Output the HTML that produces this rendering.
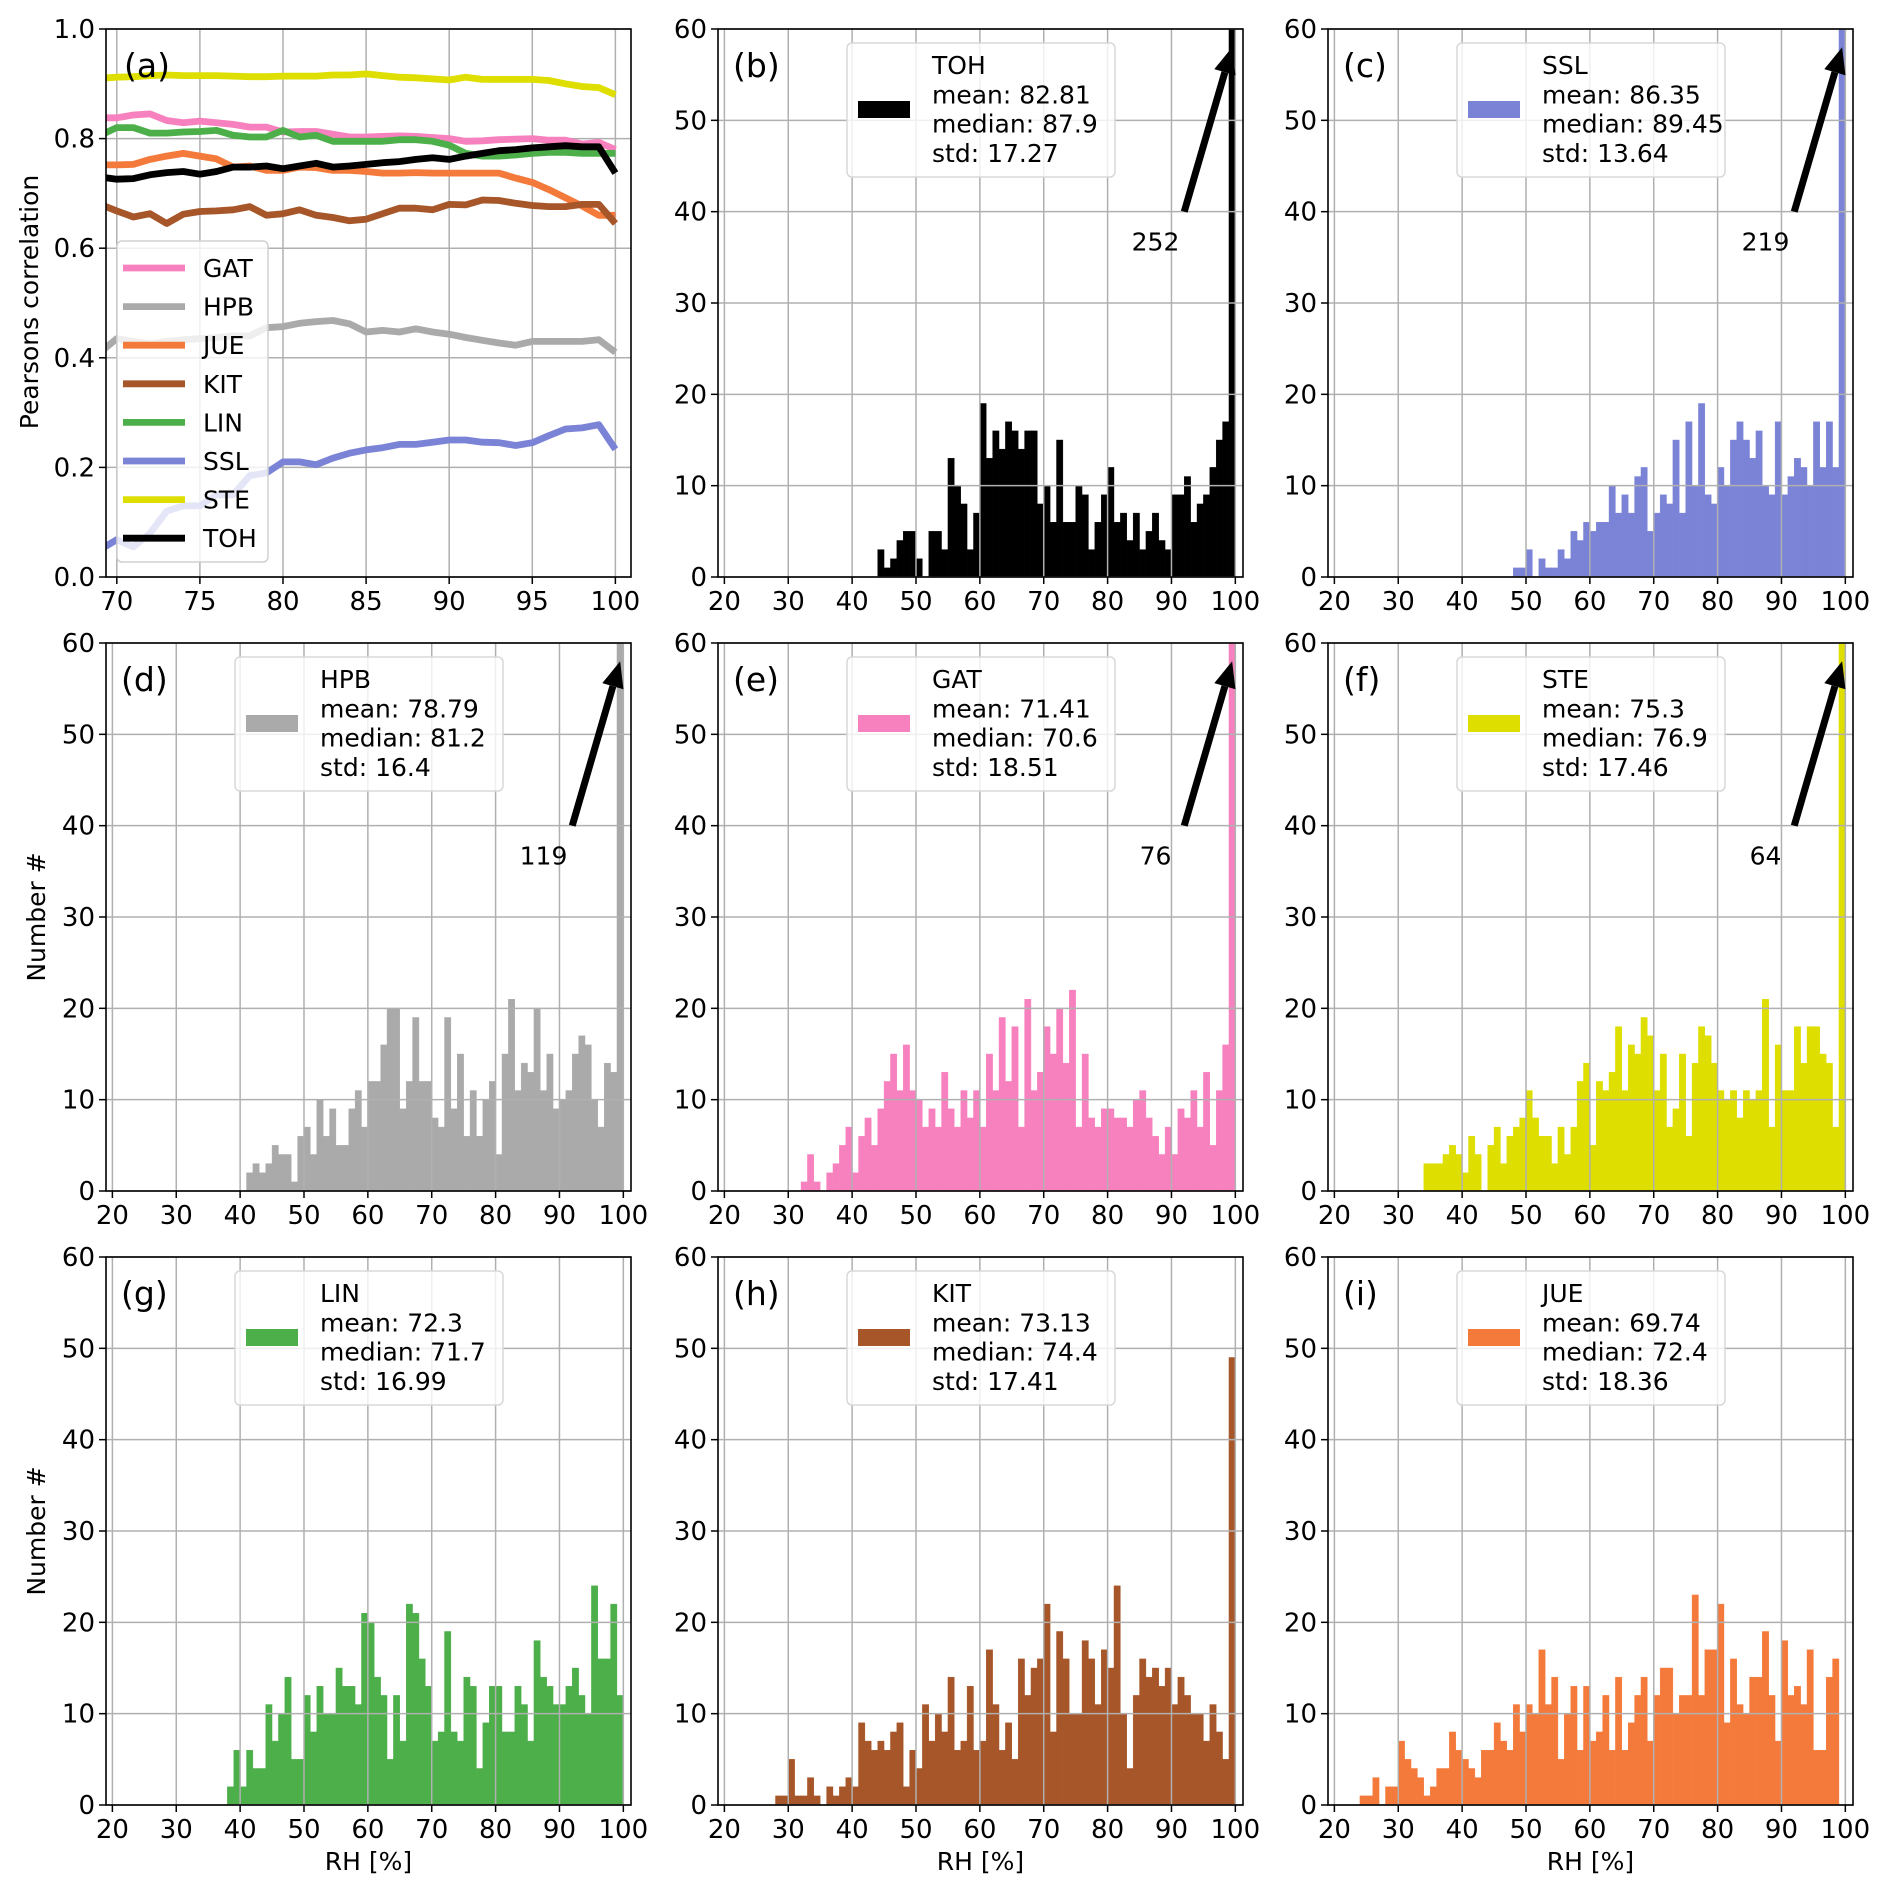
<!DOCTYPE html>
<html><head><meta charset="utf-8">
<style>
html,body{margin:0;padding:0;background:#fff;}
svg{display:block;font-family:"DejaVu Sans","Liberation Sans",sans-serif;}
</style></head>
<body>
<svg id="fig" width="1892" height="1892" viewBox="0 0 1892 1892" xmlns="http://www.w3.org/2000/svg"></svg>
<script>
// ---------- Panel (a) data ----------
const rhLine = [69,70,71,72,73,74,75,76,77,78,79,80,81,82,83,84,85,86,87,88,89,90,91,92,93,94,95,96,97,98,99,100];
const gatCorr = [.838,.838,.843,.845,.833,.829,.832,.829,.826,.821,.821,.812,.813,.813,.808,.803,.803,.804,.805,.804,.802,.800,.795,.796,.798,.799,.800,.797,.797,.790,.793,.780];
const hpbCorr = [.41,.435,.43,.425,.43,.433,.435,.437,.44,.44,.455,.457,.463,.466,.468,.462,.447,.45,.447,.453,.447,.443,.437,.432,.427,.423,.43,.43,.43,.43,.433,.41];
const jueCorr = [.752,.752,.753,.762,.768,.773,.768,.763,.748,.75,.742,.742,.748,.747,.742,.742,.74,.737,.737,.738,.737,.737,.737,.737,.737,.728,.72,.707,.692,.677,.66,.66];
const kitCorr = [.68,.668,.657,.663,.645,.662,.667,.668,.67,.676,.66,.663,.67,.66,.656,.65,.653,.663,.673,.673,.67,.68,.679,.688,.687,.682,.678,.676,.676,.68,.68,.645];
const linCorr = [.806,.82,.82,.81,.81,.812,.813,.815,.806,.803,.803,.815,.803,.806,.795,.795,.795,.795,.798,.798,.795,.788,.773,.768,.768,.77,.773,.775,.775,.773,.773,.773];
const sslCorr = [.05,.068,.055,.08,.12,.13,.13,.15,.15,.185,.19,.21,.21,.205,.217,.226,.232,.236,.242,.242,.246,.25,.25,.246,.245,.24,.245,.258,.27,.272,.278,.233];
const steCorr = [.91,.912,.913,.915,.916,.915,.915,.915,.914,.913,.913,.914,.914,.914,.916,.916,.918,.915,.912,.911,.909,.907,.912,.908,.908,.908,.908,.906,.900,.895,.893,.880];
const tohCorr = [.73,.726,.727,.734,.738,.74,.735,.74,.748,.748,.75,.745,.75,.755,.748,.75,.753,.756,.758,.762,.765,.762,.768,.773,.778,.78,.783,.785,.787,.785,.785,.737];
const lineNames = ["GAT","HPB","JUE","KIT","LIN","SSL","STE","TOH"];
const aXTicks = [70,75,80,85,90,95,100];
const aYTicks = [0,0.2,0.4,0.6,0.8,1.0];

// ---------- Histogram data (1% bins, first bin start) ----------
const tohStart = 44;
const tohCounts = [3,1,2,4,5,5,2,0,5,5, 3,13,10,8,3,7,19,13,16,14, 17,16,14,16,16,8,10,6,15,6, 6,10,9,3,6,9,12,6,7,4, 7,3,5,7,4,3,9,9,11,6, 8,9,12,15,17,252];
const sslStart = 48;
const sslCounts = [1,1,3,0,2,1,1,3,2,5, 4,6,5,6,6,10,7,9,7,11, 12,5,7,9,8,15,7,17,10,19, 9,8,12,10,15,17,15,13,16,10, 9,17,9,11,13,12,10,17,12,17, 12,219];
const hpbStart = 41;
const hpbCounts = [2,3,2,3,5,4,4,1,6,7, 4,10,6,9,5,5,9,11,7,12, 12,16,20,20,9,12,19,12,12,8, 7,19,9,15,6,11,6,10,12,4, 15,21,11,14,13,20,11,15,9,10, 11,15,17,16,10,7,14,13,119];
const gatStart = 32;
const gatCounts = [1,4,1,0,2,3,5,7,2,6, 8,5,9,12,15,11,16,11,10,7, 9,7,13,9,7,11,8,11,7,15, 11,19,12,18,7,21,11,13,18,15, 20,14,22,7,15,8,7,9,9,8, 8,7,10,11,8,6,4,7,4,9, 8,11,7,13,5,11,16,76];
const steStart = 34;
const steCounts = [3,3,3,4,5,4,2,6,4,0, 5,7,3,6,7,8,11,8,6,6, 3,7,4,7,12,14,5,12,11,13, 18,11,16,15,19,17,11,15,7,9, 15,6,14,18,17,14,11,10,11,8, 11,10,11,21,7,16,11,11,18,14, 18,18,15,14,7,64];
const linStart = 38;
const linCounts = [2,6,2,6,4,4,11,7,10,14, 5,5,12,8,13,10,10,15,13,13, 11,21,20,14,12,5,12,7,22,21, 16,13,7,8,19,8,7,14,13,4, 9,13,13,8,8,13,11,7,18,14, 13,11,11,13,15,12,10,24,16,16, 22,12];
const kitStart = 28;
const kitCounts = [1,1,5,1,1,3,1,0,2,1, 2,3,2,9,7,6,7,6,8,9, 2,6,4,11,7,10,8,14,6,7, 13,6,7,17,11,6,9,5,16,12, 15,16,22,8,19,16,10,10,18,16, 11,17,15,24,10,4,12,16,14,15, 13,15,11,14,12,10,10,7,11,8, 5,49];
const jueStart = 24;
const jueCounts = [1,1,3,0,2,2,7,5,4,3, 1,2,4,4,8,6,5,4,3,6, 6,9,7,6,11,8,11,10,17,11, 14,5,10,13,6,13,7,8,12,6, 14,6,9,12,14,7,12,15,15,10, 12,12,23,12,17,17,22,9,16,11, 10,14,14,19,12,7,18,12,13,11, 17,6,6,14,16];
const statsMean = {TOH:"82.81",SSL:"86.35",HPB:"78.79",GAT:"71.41",STE:"75.3",LIN:"72.3",KIT:"73.13",JUE:"69.74"};
const statsMedian = {TOH:"87.9",SSL:"89.45",HPB:"81.2",GAT:"70.6",STE:"76.9",LIN:"71.7",KIT:"74.4",JUE:"72.4"};
const statsStd = {TOH:"17.27",SSL:"13.64",HPB:"16.4",GAT:"18.51",STE:"17.46",LIN:"16.99",KIT:"17.41",JUE:"18.36"};
const histXTicks = [20,30,40,50,60,70,80,90,100];
const histYTicks = [0,10,20,30,40,50,60];

const colors = {GAT:"#f781bf",HPB:"#aaaaaa",JUE:"#f47a3b",KIT:"#a65628",LIN:"#4daf4a",SSL:"#7b83d6",STE:"#dede00",TOH:"#000000"};

const NS = "http://www.w3.org/2000/svg";
const fig = document.getElementById('fig');
function mk(tag, attrs, parent){
  const e = document.createElementNS(NS, tag);
  for (const k in attrs) e.setAttribute(k, attrs[k]);
  (parent||fig).appendChild(e);
  return e;
}
const COLS=[106,718,1328], ROWS=[29,643,1257], W=525, H=548;
const FS=25, TFS=26;

function drawAxesFrame(g, L, T){
  const r = mk('rect',{x:L,y:T,width:W,height:H,fill:'none',stroke:'#000','stroke-width':1.6},g);
  
  
}
function drawGridTicks(g, L, T, sx, sy, xt, yt, fmtY){
  const grid = mk('g',{},g);
  
  
  xt.forEach(v=>{
    const x=sx(v);
    mk('line',{x1:x,x2:x,y1:T,y2:T+H,stroke:'#b0b0b0','stroke-width':1.5},grid);
  });
  yt.forEach(v=>{
    const y=sy(v);
    mk('line',{x1:L,x2:L+W,y1:y,y2:y,stroke:'#b0b0b0','stroke-width':1.5},grid);
  });
  const xa = mk('g',{},g);
  
  
  xt.forEach(v=>{
    const x=sx(v);
    mk('line',{x1:x,x2:x,y1:T+H,y2:T+H+7,stroke:'#000','stroke-width':1.5},xa);
    const t=mk('text',{x:x,y:T+H+33,'text-anchor':'middle','font-size':TFS},xa);
    t.textContent=String(v);
    
    
  });
  const ya = mk('g',{},g);
  
  
  yt.forEach(v=>{
    const y=sy(v);
    mk('line',{x1:L-7,x2:L,y1:y,y2:y,stroke:'#000','stroke-width':1.5},ya);
    const t=mk('text',{x:L-11,y:y+9,'text-anchor':'end','font-size':TFS},ya);
    t.textContent=fmtY(v);
    
    
  });
}
function panelLabel(g,L,T,s){
  const t=mk('text',{x:L+15,y:T+48,'font-size':33},g);
  t.textContent=s;
  
  
}

// ---------- Panel (a) ----------
(function(){
  const L=COLS[0],T=ROWS[0];
  const g=mk('g',{});
  
  
  const x0=69.35,x1=100.94;
  const sx=v=>L+(v-x0)/(x1-x0)*W;
  const sy=v=>T+H-(v/1.0)*H;
  drawGridTicks(g,L,T,sx,sy,aXTicks,aYTicks,v=>v.toFixed(1));
  const series={GAT:gatCorr,HPB:hpbCorr,JUE:jueCorr,KIT:kitCorr,LIN:linCorr,SSL:sslCorr,STE:steCorr,TOH:tohCorr};
  const cp=mk('clipPath',{id:'clipA'},g);
  mk('rect',{x:L,y:T,width:W,height:H},cp);
  const lg=mk('g',{'clip-path':'url(#clipA)'},g);
  lineNames.forEach(n=>{
    const pts=rhLine.map((r,i)=>sx(r).toFixed(1)+','+sy(series[n][i]).toFixed(1)).join(' ');
    const p=mk('polyline',{points:pts,fill:'none',stroke:colors[n],'stroke-width':6.8,'stroke-linejoin':'round'},lg);
    
    
  });
  drawAxesFrame(g,L,T);
  panelLabel(g,L+3,T,'(a)');
  const leg=mk('g',{},g);
  
  
  mk('rect',{x:117,y:241,width:151,height:321,rx:5,fill:'#fff','fill-opacity':0.8,stroke:'#d0d0d0','stroke-width':1.5},leg);
  lineNames.forEach((n,i)=>{
    const y=268+i*38.6;
    const e=mk('g',{},leg);
    
    
    mk('line',{x1:123,x2:185,y1:y,y2:y,stroke:colors[n],'stroke-width':6.8},e);
    const t=mk('text',{x:203,y:y+9,'font-size':FS},e);
    t.textContent=n;
  });
  const yl=mk('text',{x:0,y:0,'font-size':FS,'text-anchor':'middle',transform:'translate(38,302) rotate(-90)'});
  yl.textContent='Pearsons correlation';
  
  
})();

// ---------- Histograms ----------
const hists=[
  {n:'TOH',lab:'(b)',c:1,r:0,start:tohStart,counts:tohCounts,peak:true},
  {n:'SSL',lab:'(c)',c:2,r:0,start:sslStart,counts:sslCounts,peak:true},
  {n:'HPB',lab:'(d)',c:0,r:1,start:hpbStart,counts:hpbCounts,peak:true},
  {n:'GAT',lab:'(e)',c:1,r:1,start:gatStart,counts:gatCounts,peak:true},
  {n:'STE',lab:'(f)',c:2,r:1,start:steStart,counts:steCounts,peak:true},
  {n:'LIN',lab:'(g)',c:0,r:2,start:linStart,counts:linCounts,peak:false},
  {n:'KIT',lab:'(h)',c:1,r:2,start:kitStart,counts:kitCounts,peak:false},
  {n:'JUE',lab:'(i)',c:2,r:2,start:jueStart,counts:jueCounts,peak:false}
];
hists.forEach((h,hi)=>{
  const L=COLS[h.c],T=ROWS[h.r];
  const g=mk('g',{});
  
  
  const x0=19.0,x1=101.2;
  const sx=v=>L+(v-x0)/(x1-x0)*W;
  const sy=v=>T+H-(v/60)*H;
  const cp=mk('clipPath',{id:'clipH'+hi},g);
  mk('rect',{x:L,y:T,width:W,height:H},cp);
  const bg=mk('g',{'clip-path':'url(#clipH'+hi+')'},g);
  h.counts.forEach((v,i)=>{
    if(v<=0) return;
    const b=h.start+i;
    const xa=sx(b), xb=sx(b+1);
    const y=sy(Math.min(v,62));
    const r=mk('rect',{x:xa.toFixed(2),y:y.toFixed(2),width:(xb-xa).toFixed(2),height:(sy(0)-y).toFixed(2),fill:colors[h.n],stroke:colors[h.n],'stroke-width':0.4},bg);
    
    
  });
  drawGridTicks(g,L,T,sx,sy,histXTicks,histYTicks,v=>String(v));
  drawAxesFrame(g,L,T);
  panelLabel(g,L,T,h.lab);
  const leg=mk('g',{},g);
  
  
  mk('rect',{x:L+129,y:T+14,width:268,height:134,rx:5,fill:'#fff','fill-opacity':0.8,stroke:'#d8d8d8','stroke-width':1.5},leg);
  mk('rect',{x:L+140,y:T+72,width:52,height:17,fill:colors[h.n]},leg);
  const lines=[h.n,'mean: '+statsMean[h.n],'median: '+statsMedian[h.n],'std: '+statsStd[h.n]];
  lines.forEach((s,i)=>{
    const t=mk('text',{x:L+214,y:T+45+i*29.3,'font-size':FS},leg);
    t.textContent=s;
  });
  if(h.peak){
    const last=h.counts[h.counts.length-1];
    const ax=sx(92), ay=sy(40), bx=sx(99.5), by=sy(58);
    const dx=bx-ax, dy=by-ay, len=Math.hypot(dx,dy), ux=dx/len, uy=dy/len;
    const hl=26, hw=11;
    const hx=bx-ux*hl, hy=by-uy*hl;
    const an=mk('g',{},g);
    
    
    mk('line',{x1:ax,y1:ay,x2:hx,y2:hy,stroke:'#000','stroke-width':7},an);
    mk('polygon',{points:`${bx},${by} ${hx-uy*hw},${hy+ux*hw} ${hx+uy*hw},${hy-ux*hw}`,fill:'#000'},an);
    const t=mk('text',{x:sx(87.5),y:sy(36.5)+7,'font-size':FS,'text-anchor':'middle'},an);
    t.textContent=String(last);
  }
  if(h.c===0){
    const yl=mk('text',{x:0,y:0,'font-size':FS,'text-anchor':'middle',transform:`translate(45,${T+H/2}) rotate(-90)`});
    yl.textContent='Number #';
    
    
  }
  if(h.r===2){
    const xl=mk('text',{x:L+W/2,y:1870,'font-size':FS,'text-anchor':'middle'});
    xl.textContent='RH [%]';
    
    
  }
});
</script>
</body></html>
